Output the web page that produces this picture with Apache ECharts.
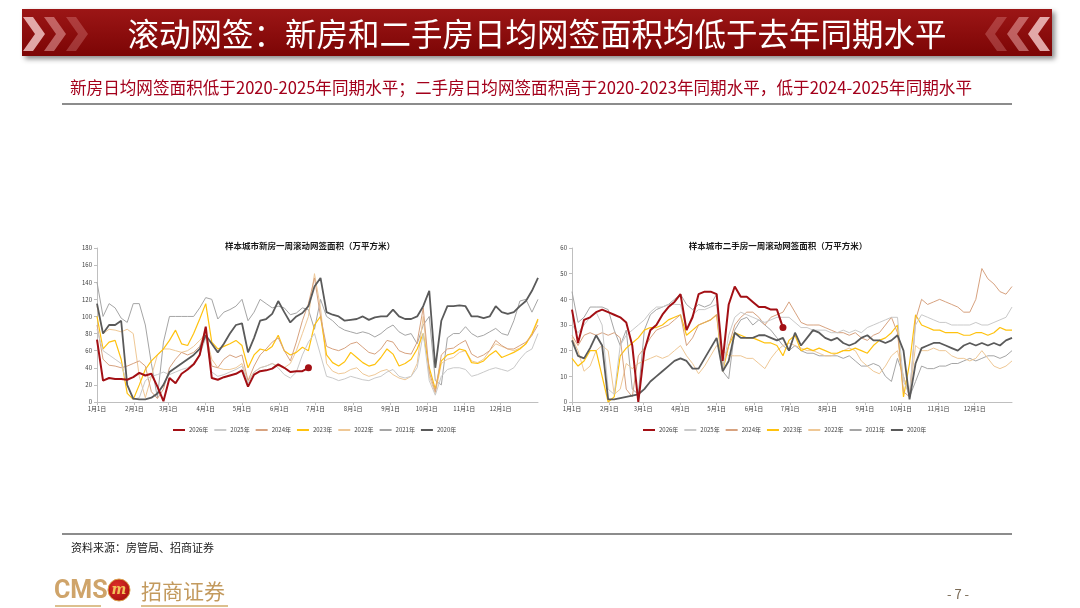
<!DOCTYPE html>
<html>
<head>
<meta charset="utf-8">
<script src="https://cdn.jsdelivr.net/npm/echarts@6/dist/echarts.min.js"></script>
<style>
  html, body { margin: 0; padding: 0; background: #fff; }
  #main { width: 1080px; height: 608px; }
</style>
</head>
<body>
<div id="main"></div>
<script>
// 每5天取一个点（一年中的第几天）
var days = [];
for (var d = 0; d <= 365; d += 5) { days.push(d); }

var monthStarts = [0, 31, 59, 90, 120, 151, 181, 212, 243, 273, 304, 334];
var monthLabels = ['1月1日', '2月1日', '3月1日', '4月1日', '5月1日', '6月1日', '7月1日', '8月1日', '9月1日', '10月1日', '11月1日', '12月1日'];
var yearNames = ['2026年', '2025年', '2024年', '2023年', '2022年', '2021年', '2020年'];

// 新房（万平方米）
var new2026 = [73,25,28,27,27,26,29,34,31,33, 18,1,28,22,33,38,44,55,88,28, 26,29,31,33,37,18,32,36,37,39, 44,40,35,36,36,40];
var new2025 = [85,60,55,50,45,20,3,5,25,30, 32,35,32,35,38,40,45,55,75,35, 30,32,35,38,42,22,35,40,42,45, 40,32,28,35,55,70,80,55,30,28, 25,27,30,28,26,25,28,30,35,38, 30,28,30,40,80,25,8,30,38,40, 40,38,30,32,35,38,40,38,36,40, 50,58,62,80];
var new2024 = [90,50,43,42,40,42,45,48,42,12, 4,15,40,50,58,55,58,65,85,42, 40,50,55,52,55,25,42,55,62,70, 75,60,48,70,95,115,145,100,65,62, 60,63,68,70,64,58,56,62,72,70, 60,57,56,70,110,35,12,55,62,63, 68,72,56,52,55,60,72,66,62,62, 66,70,78,90];
var new2023 = [100,62,70,72,50,10,3,20,38,48, 55,62,72,84,68,66,80,97,115,70, 62,65,68,72,66,40,55,62,60,65, 78,60,55,58,64,60,90,100,55,46, 42,47,58,52,46,42,44,52,62,56, 42,45,50,62,80,40,15,48,55,57, 62,60,46,45,48,55,60,52,55,58, 62,68,80,97];
var new2022 = [112,80,85,84,82,85,80,30,5,30, 55,62,62,60,58,60,65,72,80,50, 40,38,38,40,45,25,35,40,42,45, 42,40,45,60,80,100,150,110,45,36, 33,34,38,40,33,30,32,36,38,32, 28,26,30,45,100,30,10,45,50,52, 58,60,48,46,50,60,68,65,62,60, 63,68,78,95];
var new2021 = [140,100,115,110,98,93,115,115,90,45, 5,70,100,100,100,100,100,110,122,120, 97,105,108,112,120,95,105,120,115,110, 112,110,102,104,110,108,85,120,100,95, 88,84,82,80,82,80,76,80,86,90, 82,78,80,68,90,100,25,20,75,80, 80,88,80,76,78,82,86,80,78,95, 118,120,105,120];
var new2020 = [115,80,90,90,95,20,4,3,3,5, 10,20,35,40,45,50,55,62,78,68, 58,68,80,90,92,58,75,95,97,103, 118,105,93,100,104,112,135,145,105,102, 100,95,96,97,100,96,99,100,100,108, 100,97,97,100,112,130,40,95,112,112, 113,112,100,100,98,100,112,105,103,105, 112,118,130,145];

// 二手房（万平方米）
var sec2026 = [36,23,32,33,35,36,35,34,33,31, 22,0,20,28,30,34,37,39,42,28, 33,42,43,43,42,16,38,45,41,41, 39,37,37,36,36,29];
var sec2025 = [30,27,30,33,35,30,5,3,22,26, 28,30,32,35,37,37,38,38,38,28, 34,36,36,37,38,12,26,33,35,34, 33,32,31,32,33,33,33,31,29,29, 28,28,28,27,27,28,27,28,27,29, 30,31,32,33,33,8,3,30,34,33, 32,31,31,30,30,30,30,31,30,30, 31,32,33,37];
var sec2024 = [26,22,26,27,26,27,26,27,25,5, 2,18,21,25,28,29,30,32,34,22, 25,30,31,32,34,14,22,30,33,35, 35,33,30,33,34,35,39,35,31,30, 30,30,29,28,27,27,26,27,25,24, 26,27,30,33,27,4,2,32,40,38, 39,40,39,38,37,35,35,40,52,48, 46,43,42,45];
var sec2023 = [17,14,16,20,20,10,0,2,18,21, 23,25,28,29,29,30,32,33,34,26, 28,30,31,32,34,12,22,27,26,25, 25,24,23,23,22,18,24,26,20,21, 20,21,20,19,19,20,20,21,20,19, 22,24,25,27,30,2,15,34,30,29, 28,28,27,27,27,26,26,27,27,26, 27,29,28,28];
var sec2022 = [25,20,12,14,20,22,20,3,5,15, 13,15,16,17,18,17,18,20,22,18, 15,11,14,18,22,20,18,18,18,17, 17,15,13,17,20,22,23,22,21,20, 20,19,18,18,19,20,21,20,16,14, 12,11,14,18,20,10,2,22,20,20, 21,20,20,18,17,17,16,17,20,17, 14,13,14,16];
var sec2021 = [43,31,33,37,37,37,36,28,22,28, 5,3,28,34,36,37,38,40,42,38, 36,38,37,38,42,12,9,28,32,33, 30,32,30,28,25,22,20,22,20,19, 19,18,18,18,18,17,18,16,14,14, 15,14,10,8,17,10,2,8,14,13, 13,14,14,15,15,16,17,16,17,18, 18,17,18,20];
var sec2020 = [24,18,17,21,26,22,1,1,1.5,2, 2.5,3,5,8,10,12,14,16,17,16, 13,13,17,21,25,12,16,27,25,25, 25,26,26,25,24,25,20,27,22,25, 28,27,25,24,25,23,22,23,25,26, 24,24,23,24,26,20,1,15,21,22, 23,23,22,21,20,22,23,22,23,22, 23,22,24,25];

var yearColors = ['#A30F14', '#C9C9C9', '#D7A27F', '#FFC20E', '#EFC896', '#A5A5A5', '#5A5A5A'];
var yearWidths = [2, 1, 1, 1.2, 1, 1, 1.8];

var FONT = '"Noto Sans CJK SC", "Noto Sans", sans-serif';

function mkSeries(idx, vals, axis) {
    var pts = vals.map(function (v, i) { return [days[i], v]; });
    if (idx === 0) {
        var last = pts.length - 1;
        pts[last] = { value: pts[last], symbol: 'circle', symbolSize: 7 };
    }
    return {
        name: yearNames[idx],
        type: 'line',
        xAxisIndex: axis,
        yAxisIndex: axis,
        symbol: 'none',
        legendIcon: 'rect',
        data: pts,
        z: idx === 0 ? 5 : (idx === 6 ? 4 : 3),
        lineStyle: { color: yearColors[idx], width: yearWidths[idx] },
        itemStyle: { color: yearColors[idx] },
        emphasis: { disabled: true }
    };
}

var newData = [new2026, new2025, new2024, new2023, new2022, new2021, new2020];
var secData = [sec2026, sec2025, sec2024, sec2023, sec2022, sec2021, sec2020];
var seriesList = [];
// 先画旧年份，2026年放最后
for (var k = 6; k >= 0; k--) {
    seriesList.push(mkSeries(k, newData[k], 0));
    seriesList.push(mkSeries(k, secData[k], 1));
}

function xAxisCfg(idx) {
    return {
        type: 'value',
        gridIndex: idx,
        min: 0,
        max: 365,
        splitLine: { show: false },
        axisLine: { show: true, lineStyle: { color: '#BFBFBF', width: 1 } },
        axisTick: { show: true, customValues: monthStarts, length: 3, lineStyle: { color: '#BFBFBF' } },
        axisLabel: {
            customValues: monthStarts,
            fontSize: 6,
            color: '#404040',
            fontFamily: FONT,
            margin: 4,
            formatter: function (v) {
                var i = monthStarts.indexOf(Math.round(v));
                return i >= 0 ? monthLabels[i] : '';
            }
        }
    };
}

function yAxisCfg(idx, max, step) {
    return {
        type: 'value',
        gridIndex: idx,
        min: 0,
        max: max,
        interval: step,
        splitLine: { show: false },
        axisLine: { show: true, lineStyle: { color: '#BFBFBF', width: 1 } },
        axisTick: { show: true, length: 3, lineStyle: { color: '#BFBFBF' } },
        axisLabel: { fontSize: 6, color: '#404040', fontFamily: FONT, margin: 5 }
    };
}

function legendCfg(left) {
    return {
        data: yearNames,
        left: left,
        top: 422,
        icon: 'rect',
        itemWidth: 12,
        itemHeight: 2,
        itemGap: 6,
        selectedMode: false,
        textStyle: { fontSize: 6, color: '#404040', fontFamily: FONT, padding: [0, 0, 0, -1] }
    };
}

function chevron(x0, dir, color) {
    var pts;
    if (dir > 0) {
        pts = [[x0, 17], [x0 + 10, 17], [x0 + 22, 34], [x0 + 10, 51], [x0, 51], [x0 + 12, 34]];
    } else {
        pts = [[x0, 17], [x0 - 10, 17], [x0 - 22, 34], [x0 - 10, 51], [x0, 51], [x0 - 12, 34]];
    }
    return { type: 'polygon', shape: { points: pts }, style: { fill: color }, z: 101 };
}

var dom = document.getElementById('main');
var myChart = echarts.init(dom, null, { renderer: 'canvas' });

var option = {
    backgroundColor: '#ffffff',
    animation: false,
    grid: [
        { left: 97, right: 542, top: 248, bottom: 206 },
        { left: 572, right: 68, top: 248, bottom: 206 }
    ],
    xAxis: [xAxisCfg(0), xAxisCfg(1)],
    yAxis: [yAxisCfg(0, 180, 20), yAxisCfg(1, 60, 10)],
    legend: [legendCfg(168), legendCfg(638)],
    series: seriesList,
    graphic: [
        // 标题栏
        {
            type: 'rect', z: 100,
            shape: { x: 22, y: 9, width: 1030, height: 47 },
            style: {
                fill: new echarts.graphic.LinearGradient(0, 0, 0, 1, [
                    { offset: 0, color: '#9C1616' },
                    { offset: 1, color: '#7C0505' }
                ]),
                shadowBlur: 5, shadowOffsetX: 3, shadowOffsetY: 3, shadowColor: 'rgba(0,0,0,0.45)'
            }
        },
        chevron(23, 1, 'rgba(255,220,220,0.75)'),
        chevron(44, 1, 'rgba(255,200,200,0.45)'),
        chevron(66, 1, 'rgba(255,190,190,0.25)'),
        chevron(1050, -1, 'rgba(255,220,220,0.75)'),
        chevron(1029, -1, 'rgba(255,200,200,0.45)'),
        chevron(1007, -1, 'rgba(255,190,190,0.25)'),
        {
            type: 'text', z: 102, x: 537, y: 34,
            style: {
                text: '滚动网签：新房和二手房日均网签面积均低于去年同期水平',
                fill: '#ffffff', font: '31.5px ' + FONT, textAlign: 'center', textVerticalAlign: 'middle'
            }
        },
        {
            type: 'text', z: 102, x: 70, y: 88,
            style: {
                text: '新房日均网签面积低于2020-2025年同期水平；二手房日均网签面积高于2020-2023年同期水平，低于2024-2025年同期水平',
                fill: '#A3001B', font: '16.6px ' + FONT, textAlign: 'left', textVerticalAlign: 'middle'
            }
        },
        { type: 'line', z: 100, shape: { x1: 62, y1: 104, x2: 1012, y2: 104 }, style: { stroke: '#8C8C8C', lineWidth: 2 } },
        { type: 'line', z: 100, shape: { x1: 62, y1: 534, x2: 1012, y2: 534 }, style: { stroke: '#8C8C8C', lineWidth: 2 } },
        // 图表标题
        {
            type: 'text', z: 102, x: 310, y: 246,
            style: { text: '样本城市新房一周滚动网签面积（万平方米）', fill: '#1a1a1a', font: 'bold 8.5px ' + FONT, textAlign: 'center', textVerticalAlign: 'middle' }
        },
        {
            type: 'text', z: 102, x: 778, y: 246,
            style: { text: '样本城市二手房一周滚动网签面积（万平方米）', fill: '#1a1a1a', font: 'bold 8.5px ' + FONT, textAlign: 'center', textVerticalAlign: 'middle' }
        },
        // 资料来源
        {
            type: 'text', z: 102, x: 71, y: 548,
            style: { text: '资料来源：房管局、招商证券', fill: '#1a1a1a', font: '11px ' + FONT, textAlign: 'left', textVerticalAlign: 'middle' }
        },
        // 页脚logo
        {
            type: 'text', z: 102, x: 54, y: 592,
            style: { text: 'CMS', fill: '#CFA46A', font: 'bold 25px "Liberation Sans Narrow", "Roboto", sans-serif', textAlign: 'left', textVerticalAlign: 'middle' }
        },
        {
            type: 'circle', z: 102, shape: { cx: 119, cy: 590, r: 11 },
            style: {
                fill: new echarts.graphic.RadialGradient(0.4, 0.35, 0.8, [
                    { offset: 0, color: '#E0302A' },
                    { offset: 1, color: '#9E0A0A' }
                ]),
                stroke: '#D9A24A', lineWidth: 1
            }
        },
        {
            type: 'text', z: 103, x: 119, y: 590,
            style: { text: 'm', fill: '#F2C25A', font: 'italic bold 14px "DejaVu Serif", serif', textAlign: 'center', textVerticalAlign: 'middle' }
        },
        {
            type: 'text', z: 102, x: 141, y: 591,
            style: { text: '招商证券', fill: '#C39A5E', font: '21px ' + FONT, textAlign: 'left', textVerticalAlign: 'middle' }
        },
        { type: 'line', z: 100, shape: { x1: 55, y1: 606, x2: 101, y2: 606 }, style: { stroke: '#DCC08E', lineWidth: 2 } },
        { type: 'line', z: 100, shape: { x1: 141, y1: 606, x2: 228, y2: 606 }, style: { stroke: '#DCC08E', lineWidth: 2 } },
        {
            type: 'text', z: 102, x: 958, y: 594,
            style: { text: '- 7 -', fill: '#7A6A55', font: '13px ' + FONT, textAlign: 'center', textVerticalAlign: 'middle' }
        }
    ]
};

myChart.setOption(option);
</script>
</body>
</html>
